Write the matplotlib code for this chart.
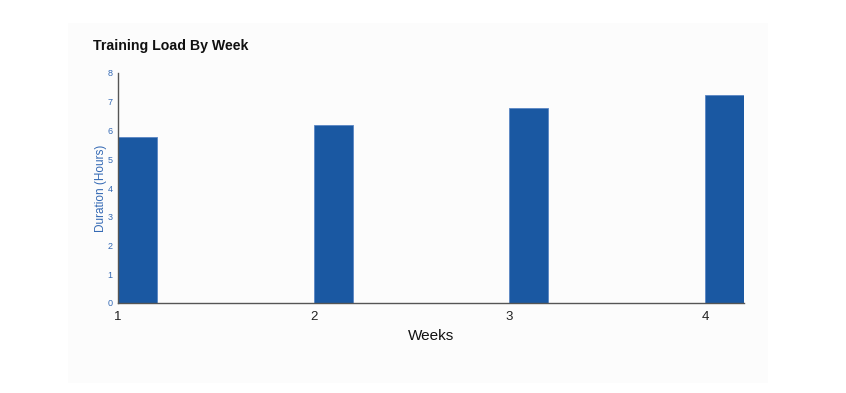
import matplotlib.pyplot as plt
from matplotlib.patches import Rectangle

weeks = [1, 2, 3, 4]
hours = [5.78, 6.2, 6.8, 7.25]
y_ticks = [0, 1, 2, 3, 4, 5, 6, 7, 8]

bar_color = '#1a58a2'
tick_blue = '#3469b4'

plt.rcParams['font.family'] = ['Liberation Sans', 'DejaVu Sans']

fig = plt.figure(figsize=(8.46, 3.93), dpi=100)
fig.patch.set_facecolor('white')

# light panel behind the chart
fig.patches.append(Rectangle((68 / 846, 1 - 383 / 393), 700 / 846, 360 / 393,
                             transform=fig.transFigure, facecolor='#fcfcfc',
                             edgecolor='none', zorder=-5))

ax = fig.add_axes([118 / 846, 1 - 303 / 393, 626 / 846, 230 / 393])
ax.set_zorder(2)
ax.set_facecolor('none')
ax.bar(weeks, hours, width=0.2, align='edge', color=bar_color,
       edgecolor='#5a86c4', linewidth=0.6)

ax.set_xlim(1, 4.2)
ax.set_ylim(0, 8)
ax.set_xticks(weeks)
ax.set_yticks(y_ticks)
ax.tick_params(axis='x', length=0, pad=6, labelsize=9.5, labelcolor='#222222')
ax.tick_params(axis='y', length=0, pad=4, labelsize=6.5, labelcolor=tick_blue)

for s in ['top', 'right']:
    ax.spines[s].set_visible(False)
for s in ['left', 'bottom']:
    ax.spines[s].set_color('#555555')
    ax.spines[s].set_linewidth(1)

ax.set_xlabel('Weeks', fontsize=11, color='#111111', labelpad=4)
ax.set_ylabel('Duration (Hours)', fontsize=8.5, color=tick_blue, labelpad=0)

fig.text(93 / 846, 1 - 46 / 393, 'Training Load By Week', fontsize=10.2,
         fontweight='bold', color='#111111', va='center', ha='left')

fig.savefig('out.png', dpi=100)
